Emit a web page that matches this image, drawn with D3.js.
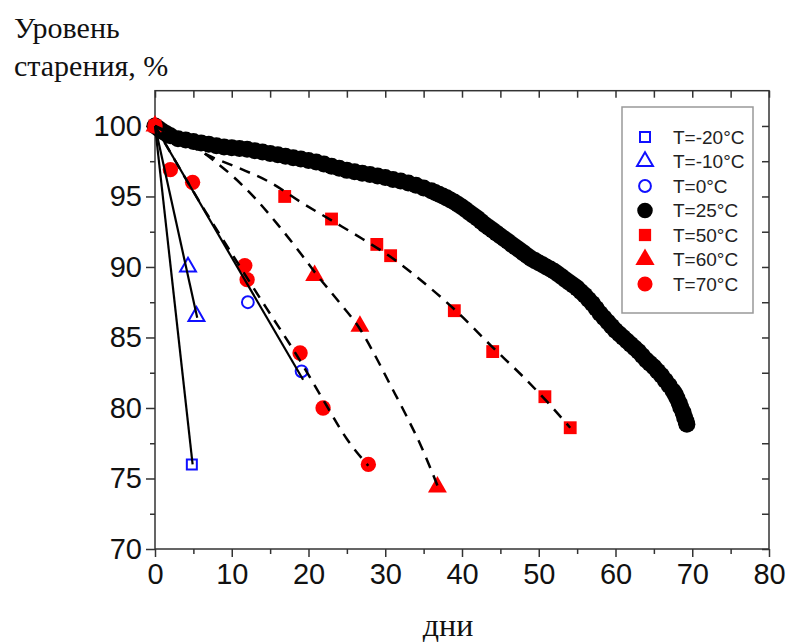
<!DOCTYPE html>
<html><head><meta charset="utf-8">
<script src="https://cdn.jsdelivr.net/npm/d3@7"></script>
<style>body{margin:0;background:#fff}</style>
</head><body><svg id="chart" width="793" height="642"></svg>
<script>
// Aging level vs. days at several storage temperatures
const xTicks = [0, 10, 20, 30, 40, 50, 60, 70, 80];
const yTicks = [70, 75, 80, 85, 90, 95, 100];

// T = 25°C, dense measurement series
const days25 = [0,0.5,1,1.5,2,3,4,5,6,7,8,9,10,11,12,13,14,15,16,17,18,19,20,21,22,23,24,25,26,27,28,29,30,31,32,33,34,35,
  36,36.5,37,37.5,38,38.5,39,39.5,40,40.5,41,41.5,42,42.5,43,43.5,44,44.5,45,45.5,46,46.5,47,47.5,48,48.5,49,49.5,
  50,50.5,51,51.5,52,52.5,53,53.5,54,54.5,55,55.5,56,56.5,57,57.5,58,58.5,59,59.5,60,60.5,61,61.5,62,62.5,63,63.5,
  64,64.5,65,65.5,66,66.5,67,67.5,67.8,68,68.3,68.5,68.8,69,69.2,69.3];
const level25 = [100,99.8,99.6,99.45,99.3,99.1,99.0,98.9,98.8,98.7,98.6,98.5,98.45,98.4,98.35,98.25,98.15,98.05,97.95,97.85,97.75,97.65,
  97.55,97.45,97.3,97.15,97.0,96.85,96.75,96.65,96.55,96.45,96.35,96.2,96.1,95.95,95.8,95.6,
  95.4,95.28,95.15,95.03,94.9,94.75,94.6,94.43,94.25,94.05,93.85,93.65,93.45,93.22,93.0,92.8,92.6,92.4,92.2,92.0,
  91.8,91.6,91.4,91.2,91.0,90.8,90.6,90.45,90.3,90.15,90.0,89.85,89.7,89.5,89.3,89.1,88.9,88.7,88.5,88.25,88.0,87.7,
  87.4,87.05,86.7,86.4,86.1,85.8,85.5,85.25,85.0,84.75,84.5,84.25,84.0,83.7,83.4,83.15,82.9,82.6,82.3,81.95,81.6,81.2,
  80.95,80.7,80.35,80.05,79.7,79.35,79.05,78.85];

// Other temperatures
const daysM20 = [4.8];              const levelM20 = [76.0];
const daysM10 = [4.3, 5.4];         const levelM10 = [90.0, 86.5];
const days0   = [12.1, 19.1];       const level0   = [87.5, 82.6];
const days50  = [0, 16.9, 23.0, 28.9, 30.7, 39.0, 44.0, 50.8, 54.1];
const level50 = [100, 95.0, 93.4, 91.6, 90.8, 86.9, 84.0, 80.8, 78.6];
const days60  = [0, 20.8, 26.7, 36.8];
const level60 = [100, 89.4, 85.8, 74.4];
const days70  = [0, 2.0, 4.9, 11.7, 12.0, 18.9, 21.9, 27.8];
const level70 = [100, 96.9, 96.0, 90.1, 89.1, 83.9, 80.0, 76.0];

// Fitted trends
const fitM20X = [0, 4.9];   const fitM20Y = [100, 76.0];
const fitM10X = [0, 5.5];   const fitM10Y = [100, 86.4];
const fit0X   = [0, 19.3];  const fit0Y   = [100, 82.0];
const fit50X = [0, 3.5, 7.4, 11, 15, 19, 23, 27, 31, 35, 39, 44, 48, 51, 54.1];
const fit50Y = [100, 98.9, 97.8, 97.0, 96.0, 94.6, 93.3, 92.0, 90.6, 88.9, 87.0, 84.3, 82.2, 80.5, 78.6];
const fit60X = [0, 5, 8, 10, 13, 16, 18.5, 21, 24, 26.7, 28.4, 30.6, 32.7, 34.5, 36.8];
const fit60Y = [100, 98.6, 97.4, 96.5, 94.9, 93.0, 91.3, 89.5, 87.5, 85.6, 84.0, 81.7, 79.5, 77.5, 74.5];
const fit70X = [0, 6.5, 10.4, 14.5, 18.4, 22, 25, 27.8];
const fit70Y = [100, 94.0, 90.6, 87.1, 83.8, 80.5, 77.8, 75.9];

const legendLabels = ["T=-20°C", "T=-10°C", "T=0°C", "T=25°C", "T=50°C", "T=60°C", "T=70°C"];

const BLUE = "#1010ff", RED = "#ff0000";
const svg = d3.select("#chart");
const L = 155, R = 769, T = 90.7, B = 549;
const x = d3.scaleLinear().domain([0, 80]).range([L, R]);
const y = d3.scaleLinear().domain([70, 102.5]).range([B, T]);

const zip = (a, b) => a.map((v, i) => [v, b[i]]);

// axes
const fontTick = "Liberation Sans, Arial, sans-serif";
function styleAxis(g) {
  g.select(".domain").remove();
  g.selectAll("line").attr("stroke", "#333").attr("stroke-width", 1.5);
  g.selectAll("text").attr("font-family", fontTick).attr("font-size", 29).attr("fill", "#111");
}
const xMinor = d3.range(5, 80, 10), yMinor = d3.range(72.5, 102.5, 5);

svg.append("g").attr("transform", `translate(0,${B})`)
  .call(d3.axisBottom(x).tickValues(xTicks).tickSize(8).tickPadding(6).tickFormat(d3.format("d")))
  .call(styleAxis);
svg.append("g").attr("transform", `translate(0,${B})`)
  .call(d3.axisBottom(x).tickValues(xMinor).tickSize(5).tickFormat(""))
  .call(styleAxis);
svg.append("g").attr("transform", `translate(${L},0)`)
  .call(d3.axisLeft(y).tickValues(yTicks).tickSize(9).tickPadding(4).tickFormat(d3.format("d")))
  .call(styleAxis);
svg.append("g").attr("transform", `translate(${L},0)`)
  .call(d3.axisLeft(y).tickValues(yMinor).tickSize(5).tickFormat(""))
  .call(styleAxis);
// inward ticks on top and right
svg.append("g").attr("transform", `translate(0,${T})`)
  .call(d3.axisTop(x).tickValues(xTicks.concat(xMinor)).tickSize(-7).tickFormat(""))
  .call(styleAxis);
svg.append("g").attr("transform", `translate(${R},0)`)
  .call(d3.axisRight(y).tickValues(yTicks.concat(yMinor)).tickSize(-7).tickFormat(""))
  .call(styleAxis);
svg.append("rect").attr("x", L).attr("y", T).attr("width", R - L).attr("height", B - T)
  .attr("fill", "none").attr("stroke", "#333").attr("stroke-width", 1.5);

const plot = svg.append("g");

// 25°C dense series
plot.append("g").selectAll("circle").data(zip(days25, level25)).join("circle")
  .attr("cx", d => x(d[0])).attr("cy", d => y(d[1])).attr("r", 8.5).attr("fill", "#000");

// marker helpers
const sym = (type, size) => d3.symbol().type(type).size(size)();
function markers(data, type, size, filled, color, sw) {
  plot.append("g").selectAll("path").data(data).join("path")
    .attr("transform", d => `translate(${x(d[0])},${y(d[1])})`)
    .attr("d", sym(type, size))
    .attr("fill", filled ? color : "none")
    .attr("stroke", filled ? "none" : color)
    .attr("stroke-width", sw);
}
markers(zip(days50, level50), d3.symbolSquare, 165, true, RED, 0);
markers(zip(days60, level60), d3.symbolTriangle, 155, true, RED, 0);
markers(zip(days70, level70), d3.symbolCircle, 185, true, RED, 0);
markers(zip(daysM20, levelM20), d3.symbolSquare, 100, false, BLUE, 2);
markers(zip(daysM10, levelM10), d3.symbolTriangle, 110, false, BLUE, 2);
markers(zip(days0, level0), d3.symbolCircle, 110, false, BLUE, 2);

// fitted lines
const lineGen = d3.line().x(d => x(d[0])).y(d => y(d[1])).curve(d3.curveMonotoneX);
[[fitM20X, fitM20Y], [fitM10X, fitM10Y], [fit0X, fit0Y]].forEach(([a, b]) => {
  plot.append("path").attr("d", lineGen(zip(a, b))).attr("fill", "none")
    .attr("stroke", "#000").attr("stroke-width", 2.2);
});
[[fit50X, fit50Y], [fit60X, fit60Y], [fit70X, fit70Y]].forEach(([a, b]) => {
  plot.append("path").attr("d", lineGen(zip(a, b))).attr("fill", "none")
    .attr("stroke", "#000").attr("stroke-width", 2.5).attr("stroke-dasharray", "11,8");
});

// legend
const lg = svg.append("g");
lg.append("rect").attr("x", 622).attr("y", 107).attr("width", 131).attr("height", 206)
  .attr("fill", "#fff").attr("stroke", "#999").attr("stroke-width", 1.5);
const legendSyms = [
  [d3.symbolSquare, 100, false, BLUE], [d3.symbolTriangle, 110, false, BLUE], [d3.symbolCircle, 110, false, BLUE],
  [d3.symbolCircle, 190, true, "#000"], [d3.symbolSquare, 150, true, RED], [d3.symbolTriangle, 160, true, RED],
  [d3.symbolCircle, 180, true, RED]
];
legendLabels.forEach((t, i) => {
  const cy = 137 + i * 24.5;
  const [type, size, filled, color] = legendSyms[i];
  lg.append("path").attr("transform", `translate(645,${cy})`).attr("d", sym(type, size))
    .attr("fill", filled ? color : "none").attr("stroke", filled ? "none" : color).attr("stroke-width", 2);
  lg.append("text").attr("x", 673).attr("y", cy).attr("dy", "0.36em")
    .attr("font-family", fontTick).attr("font-size", 19).attr("fill", "#222").text(t);
});

// axis titles
const serif = "Liberation Serif, Times New Roman, serif";
svg.append("text").attr("x", 14).attr("y", 38).attr("font-family", serif).attr("font-size", 30)
  .attr("fill", "#111").text("Уровень");
svg.append("text").attr("x", 14).attr("y", 76).attr("font-family", serif).attr("font-size", 30)
  .attr("fill", "#111").text("старения, %");
svg.append("text").attr("x", 448).attr("y", 636).attr("text-anchor", "middle").attr("font-family", serif)
  .attr("font-size", 32).attr("fill", "#111").text("дни");
</script></body></html>
